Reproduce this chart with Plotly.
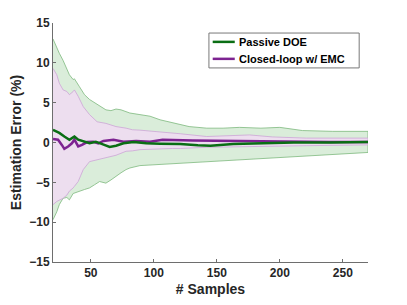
import plotly.graph_objects as go

# Passive DOE band (x, upper, lower)
g_band_x = [20, 23, 25, 28, 31, 33, 36, 37, 41, 45, 49, 53, 57, 62, 66, 70, 74, 78, 81, 89, 97,
            105, 115, 128, 142, 155, 168, 185, 200, 218, 242, 270]
g_upper = [13.0, 11.8, 11.2, 10.3, 9.3, 8.5, 7.9, 8.0, 7.0, 6.0, 5.4, 5.0, 4.7, 4.1, 4.0, 4.2, 4.1,
           3.9, 3.7, 3.5, 3.3, 2.85, 2.5, 2.0, 1.8, 1.8, 1.9, 1.8, 1.9, 1.5, 1.4, 1.4]
g_lower = [-9.7, -8.7, -7.8, -7.0, -6.9, -7.2, -6.4, -6.3, -6.1, -5.9, -5.7, -5.3, -4.9, -5.1, -4.7,
           -4.3, -3.8, -3.4, -3.2, -2.9, -2.8, -2.7, -2.6, -2.5, -2.4, -2.3, -2.2, -2.0, -1.9, -1.7,
           -1.5, -1.25]

# Closed-loop w/ EMC band
p_band_x = [20, 23, 25, 28, 31, 33, 36, 37, 40, 44, 49, 55, 62, 70, 78, 83, 89, 97, 115, 121, 142,
            160, 176, 194, 221, 270]
p_upper = [9.3, 8.5, 7.45, 6.6, 6.4, 6.0, 6.4, 6.6, 5.8, 4.5, 3.5, 2.6, 2.4, 2.0, 1.8, 1.6, 1.55,
           1.45, 1.15, 1.1, 0.75, 0.85, 0.95, 0.7, 0.55, 0.55]
p_lower = [-7.8, -7.4, -7.2, -7.0, -6.6, -6.1, -5.7, -5.5, -4.9, -3.4, -2.4, -2.1, -1.9, -1.6, -1.1,
           -1.05, -0.9, -0.85, -0.75, -0.75, -0.6, -0.55, -0.5, -0.45, -0.4, -0.3]

# Mean lines
g_mean_x = [20, 25, 29, 33, 36, 37, 40, 44, 49, 54, 60, 65, 70, 76, 84, 94, 105, 113, 121, 135, 145,
            163, 185, 211, 240, 270]
g_mean = [1.6, 1.2, 0.75, 0.35, 0.65, 0.75, 0.35, 0.15, -0.1, 0.1, -0.3, -0.55, -0.4, -0.1, 0.05,
          -0.1, -0.15, -0.15, -0.2, -0.35, -0.4, -0.2, -0.1, 0.0, 0.0, 0.05]
p_mean_x = [20, 24, 27, 29, 32, 35, 37, 40, 43, 47, 52, 56, 60, 68, 76, 86, 97, 107, 131, 158, 185,
            211, 240, 270]
p_mean = [0.45, 0.35, -0.3, -0.8, -0.5, -0.1, 0.35, -0.5, -0.3, 0.05, 0.1, -0.1, 0.2, 0.35, 0.1, 0.2,
          0.1, 0.35, 0.25, 0.2, 0.1, 0.05, 0.05, 0.05]

x_ticks = [50, 100, 150, 200, 250]
y_ticks = [-15, -10, -5, 0, 5, 10, 15]
legend_names = ["Passive DOE", "Closed-loop w/ EMC"]

GREEN = "rgb(10,110,20)"
PURPLE = "rgb(125,35,145)"
FONT = "Liberation Sans"
fig = go.Figure()

fig.add_trace(go.Scatter(x=g_band_x + g_band_x[::-1], y=g_upper + g_lower[::-1], fill="toself",
                         fillcolor="rgb(218,237,218)", line=dict(color="rgb(125,185,125)", width=0.8),
                         mode="lines", showlegend=False, hoverinfo="skip"))
fig.add_trace(go.Scatter(x=p_band_x + p_band_x[::-1], y=p_upper + p_lower[::-1], fill="toself",
                         fillcolor="rgb(237,222,239)", line=dict(color="rgb(205,165,215)", width=0.8),
                         mode="lines", showlegend=False, hoverinfo="skip"))
fig.add_trace(go.Scatter(x=p_mean_x, y=p_mean, mode="lines", name=legend_names[1], showlegend=False,
                         line=dict(color=PURPLE, width=2.5)))
fig.add_trace(go.Scatter(x=g_mean_x, y=g_mean, mode="lines", name=legend_names[0], showlegend=False,
                         line=dict(color=GREEN, width=2.5)))

# Manual legend box (paper coordinates)
L, R, T, B = 0.495, 0.972, 0.958, 0.812
fig.add_shape(type="rect", xref="paper", yref="paper", x0=L, x1=R, y0=B, y1=T,
              line=dict(color="rgb(120,120,120)", width=1), fillcolor="white", layer="above")
rows = [0.921, 0.85]
for name, col, yy in zip(legend_names, [GREEN, PURPLE], rows):
    fig.add_shape(type="line", xref="paper", yref="paper", x0=L + 0.012, x1=L + 0.082, y0=yy, y1=yy,
                  line=dict(color=col, width=2.5), layer="above")
    fig.add_annotation(xref="paper", yref="paper", x=L + 0.088, y=yy, text=name, showarrow=False,
                       xanchor="left", yanchor="middle",
                       font=dict(family=FONT, size=11, color="black", weight="bold"))

axis_common = dict(showgrid=False, zeroline=False, showline=True, linecolor="rgb(110,110,110)",
                   linewidth=1, ticks="inside", ticklen=3, tickcolor="rgb(110,110,110)",
                   automargin=False,
                   tickfont=dict(family=FONT, size=12, color="rgb(38,38,38)", weight="bold"))

# the page body adds an 8px offset at top-left, so the figure is 8px smaller and l/t are reduced
fig.update_layout(
    width=399, height=297,
    margin=dict(l=45, r=39, t=15, b=43),
    paper_bgcolor="white", plot_bgcolor="white",
    font=dict(family=FONT, color="rgb(38,38,38)"),
    showlegend=False,
    xaxis=dict(range=[20, 270], tickvals=x_ticks,
               title=dict(text="# Samples", font=dict(family=FONT, size=14, weight="bold"), standoff=4),
               **axis_common),
    yaxis=dict(range=[-15, 15], tickvals=y_ticks,
               title=dict(text="Estimation Error (%)", font=dict(family=FONT, size=14, weight="bold"),
                          standoff=4),
               **axis_common),
)

fig.write_html("out.html")
